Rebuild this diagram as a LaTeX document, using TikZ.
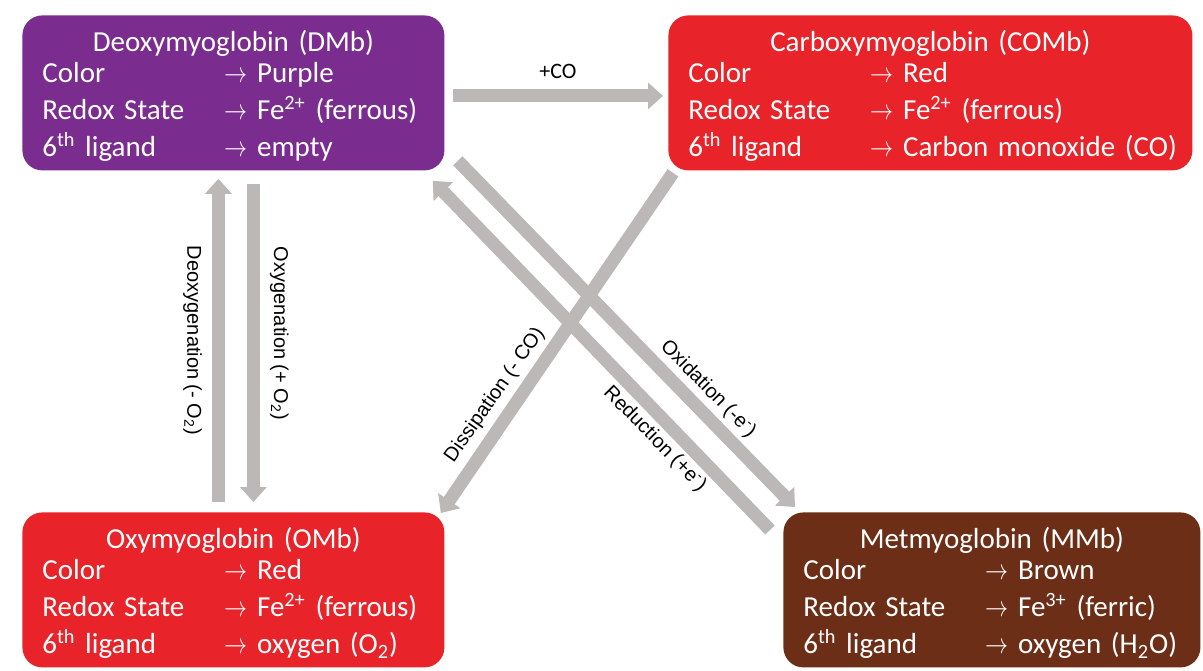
\documentclass[tikz,border=0pt]{standalone}
\usepackage{fontspec}
\setmainfont{Carlito}
\newfontfamily\labelfont{Liberation Sans}
\usetikzlibrary{arrows.meta}

\definecolor{dmbpurple}{RGB}{122,45,142}
\definecolor{combred}{RGB}{232,36,42}
\definecolor{mmbbrown}{RGB}{108,46,22}
\definecolor{flowgray}{RGB}{189,184,184}

\newcommand{\molrow}[2]{\mbox{\makebox[91pt][l]{#1}\scalebox{0.8}[1]{$\rightarrow$} #2}}
\newcommand{\moltitle}[1]{\centering\rule{0pt}{14pt}#1\par\vspace{-3pt}\raggedright}

\tikzset{
  state/.style={rounded corners=10pt, anchor=north west, text=white, inner xsep=10pt,
    minimum height=77.5pt, font=\fontsize{14.5}{18.5}\selectfont},
  flow/.style={draw=flowgray, line width=6.5pt, -{Triangle[width=13pt,length=7.5pt]}},
  lbl/.style={font=\labelfont\fontsize{10}{12}\selectfont, inner xsep=0pt}
}

\begin{document}
\begin{tikzpicture}[x=0.5pt,y=-0.5pt]
    \useasboundingbox (0,0) rectangle (1203,670);

    % the four states
    \node[state, fill=dmbpurple, text width=191pt] (DMb) at (22,15) {\moltitle{Deoxymyoglobin (DMb)}
        \molrow{Color}{Purple}\\
        \molrow{Redox State}{Fe\textsuperscript{2+} (ferrous)}\\
        \molrow{6\textsuperscript{th} ligand}{empty}};
    \node[state, fill=combred, text width=242pt] (COMb) at (668,15) {\moltitle{Carboxymyoglobin (COMb)}
        \molrow{Color}{Red}\\
        \molrow{Redox State}{Fe\textsuperscript{2+} (ferrous)}\\
        \molrow{6\textsuperscript{th} ligand}{Carbon monoxide (CO)}};
    \node[state, fill=combred, text width=191pt] (OMb) at (22,512) {\moltitle{Oxymyoglobin (OMb)}
        \molrow{Color}{Red}\\
        \molrow{Redox State}{Fe\textsuperscript{2+} (ferrous)}\\
        \molrow{6\textsuperscript{th} ligand}{oxygen (O\textsubscript{2})}};
    \node[state, fill=mmbbrown, text width=188.5pt] (MMb) at (783,512) {\moltitle{Metmyoglobin (MMb)}
        \molrow{Color}{Brown}\\
        \molrow{Redox State}{Fe\textsuperscript{3+} (ferric)}\\
        \molrow{6\textsuperscript{th} ligand}{oxygen (H\textsubscript{2}O)}};

    % transitions
    \draw[flow] ([shift={(8,3)}]DMb.east) -- node[midway, above=2pt, font=\fontsize{11}{12}\selectfont] {+CO} ([shift={(-5,3)}]COMb.west);

    \draw[flow] ([shift={(-15,-10)}]OMb.north) -- node[lbl, pos=0.5, rotate=-90, anchor=north, inner ysep=5pt] {Deoxygenation (- O\textsubscript{2})} ([shift={(-15,8)}]DMb.south);
    \draw[flow] ([shift={(20,13)}]DMb.south) -- node[lbl, pos=0.47, rotate=-90, anchor=south, inner ysep=5pt] {Oxygenation (+ O\textsubscript{2})} ([shift={(20,-10)}]OMb.north);

    \draw[flow] ([shift={(5,2)}]COMb.south west) -- node[lbl, pos=0.69, rotate=55, anchor=south, inner ysep=3pt] {Dissipation (- CO)} ([shift={(-4,1)}]OMb.north east);
    \draw[flow] ([shift={(13,-10)}]DMb.south east) -- node[lbl, pos=0.7, rotate=-45.5, anchor=south, inner ysep=2pt] {Oxidation (-e\textsuperscript{-})} ([shift={(12,-5)}]MMb.north west);
    \draw[flow] ([shift={(-13,18)}]MMb.north west) -- node[lbl, pos=0.3, rotate=-45.5, anchor=north, inner ysep=2pt] {Reduction (+e\textsuperscript{-})} ([shift={(-12,10)}]DMb.south east);

\end{tikzpicture}
\end{document}
